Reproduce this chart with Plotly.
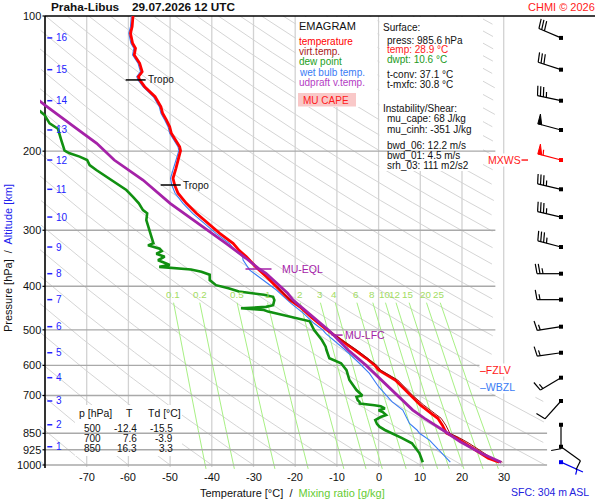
import math
import plotly.graph_objects as go

FONT = "Liberation Sans, Arial, sans-serif"

# ------------------------------------------------------------------ data
station = "Praha-Libus"
run_time = "29.07.2026 12 UTC"
credit = "CHMI \u00a9 2026"
diagram_name = "EMAGRAM"

temp_p = [100, 105.6, 109.3, 115.0, 118.0, 122.1, 127.4, 133.1, 136.5, 138.8, 143.7, 151.3, 159.2,
          164.7, 170.4, 176.4, 182.5, 188.9, 195.5, 199.5, 209.3, 218.4, 229.8, 237.9, 248.2, 261.3,
          275.1, 289.5, 304.8, 320.8, 333.0, 343.6, 361.7, 380.7, 400.7, 415.0, 429.1, 444.1, 470.0,
          500.0, 525.0, 554.5, 580.0, 600.0, 614.5, 646.7, 700.0, 735.0, 767.0, 787.0, 815.0, 835.0,
          850.0, 870.0, 894.5, 934.0, 966.0, 985.6]
temp_t = [-58.9, -59.1, -59.5, -59.0, -58.3, -58.6, -57.3, -56.7, -57.6, -57.3, -56.1, -53.6, -52.2,
          -51.8, -50.9, -50.1, -49.7, -48.7, -47.7, -47.5, -48.0, -48.6, -49.3, -48.9, -48.1, -46.1,
          -43.7, -40.9, -38.1, -34.9, -33.4, -31.7, -29.5, -26.9, -24.5, -22.8, -21.3, -18.9, -16.0,
          -12.4, -9.3, -5.6, -2.8, -0.9, 0.0, 4.0, 7.6, 10.0, 12.6, 14.2, 15.3, 15.8,
          16.3, 18.6, 20.8, 23.9, 26.3, 28.9]

virt_p = [400.7, 415.0, 429.1, 444.1, 470.0, 500.0, 525.0, 554.5, 580.0, 600.0, 614.5, 646.7, 700.0,
          735.0, 767.0, 787.0, 815.0, 835.0, 850.0, 870.0, 894.5, 934.0, 966.0, 985.6]
virt_t = [-24.4, -22.7, -21.2, -18.8, -15.8, -12.1, -9.0, -5.2, -2.3, -0.4, 0.5, 4.6, 8.2,
          10.8, 13.4, 15.0, 16.1, 16.6, 17.1, 19.4, 21.7, 24.8, 27.2, 29.7]

dew_p = [155.0, 166.2, 173.4, 178.3, 188.9, 199.5, 202.2, 205.7, 209.3, 214.8, 220.3, 228.0, 235.8,
         244.1, 252.7, 261.3, 270.6, 275.1, 284.7, 299.7, 315.6, 320.8, 324.2, 329.8, 334.0, 338.5,
         343.6, 349.9, 354.0, 358.6, 362.0, 364.5, 367.0, 371.1, 376.9, 387.3, 397.6, 404.0, 410.9,
         417.7, 422.0, 429.1, 440.8, 444.5, 447.7, 449.5, 451.5, 455.4, 465.0, 474.5, 478.7, 500.0,
         526.8, 545.1, 554.5, 578.6, 593.5, 614.6, 646.7, 681.0, 700.0, 705.0, 717.3, 722.6, 730.0,
         736.0, 740.0, 748.0, 755.0, 762.0, 774.0, 782.0, 794.0, 810.0, 821.8, 835.6, 850.0, 870.0,
         894.5, 941.8, 985.6]
dew_t = [-84.0, -80.1, -78.9, -76.9, -76.1, -75.3, -74.1, -71.7, -69.9, -69.3, -67.7, -65.3, -62.9,
         -60.5, -58.9, -57.5, -56.5, -55.5, -55.7, -54.9, -54.1, -54.0, -55.3, -52.5, -52.0, -53.3,
         -51.3, -52.9, -51.5, -50.1, -52.6, -49.0, -45.0, -42.5, -40.5, -40.5, -39.0, -36.0, -33.5,
         -27.5, -25.3, -25.0, -25.3, -27.0, -33.0, -30.0, -27.5, -26.5, -22.5, -18.5, -16.5, -15.5,
         -13.6, -12.7, -12.5, -11.8, -9.0, -7.7, -7.0, -5.3, -3.9, -5.3, -5.0, -4.6, -4.5,
         -1.0, 0.5, 1.5, 0.0, 1.0, 1.8, 0.5, -0.8, -0.4, 0.2, 1.5, 3.3, 5.5,
         8.0, 9.8, 10.6]

wetb_p = [100, 105.6, 109.3, 115.0, 118.0, 122.1, 127.4, 133.1, 136.5, 138.8, 143.7, 151.3, 159.2,
          164.7, 170.4, 176.4, 182.5, 188.9, 195.5, 199.5, 209.3, 218.4, 229.8, 237.9, 248.2, 261.3,
          275.1, 289.5, 304.8, 320.8, 333.0, 343.6, 349.4, 368.0, 387.3, 407.6, 436.4, 459.4, 483.5,
          500.0, 509.0, 554.5, 593.5, 624.9, 669.3, 722.7, 754.5, 780.5, 807.8, 835.6, 850.0, 880.0,
          941.8, 985.6]
wetb_t = [-59.3, -59.5, -59.9, -59.4, -58.7, -59.0, -57.7, -57.1, -58.0, -57.7, -56.5, -54.0, -52.6,
          -52.2, -51.3, -50.5, -50.1, -49.1, -48.1, -47.9, -48.5, -49.2, -49.9, -49.6, -48.8, -46.9,
          -44.6, -41.8, -39.0, -35.8, -34.4, -32.6, -32.5, -30.9, -27.7, -24.5, -21.0, -18.0, -15.5,
          -13.4, -12.7, -8.0, -4.6, -2.2, 0.0, 3.2, 5.8, 6.6, 7.4, 9.2, 9.8, 12.2,
          15.2, 17.2]

parcel_p = [150.0, 157.8, 177.9, 192.1, 209.3, 218.4, 231.9, 261.3, 289.5, 320.8, 346.4, 366.0, 374.2,
            400.7, 414.6, 429.1, 467.4, 500.0, 513.6, 554.5, 600.0, 650.0, 692.3, 700.0, 754.5, 767.3,
            787.1, 835.6, 887.5, 941.8, 985.6]
parcel_t = [-83.0, -80.1, -72.5, -67.6, -63.4, -60.5, -56.5, -50.0, -43.2, -36.6, -31.8, -28.6, -27.0,
            -23.5, -21.8, -20.5, -15.7, -12.1, -10.8, -7.3, -3.0, 0.9, 3.8, 4.4, 8.2, 9.3,
            11.0, 15.4, 19.6, 24.6, 29.4]

p_levels = [100, 200, 300, 400, 500, 600, 700, 850, 925, 1000]
t_ticks = [-70, -60, -50, -40, -30, -20, -10, 0, 10, 20, 30]
mix_ratios = [0.1, 0.2, 0.5, 1, 2, 3, 4, 6, 8, 10, 12, 15, 20, 25]
mix_labels = ["0.1", "0.2", "0.5", "1", "2", "3", "4", "6", "8", "10", "12", "15", "20", "25"]
theta_c = list(range(-80, 330, 10))

alt_km = list(range(1, 17))
alt_p = [910.6, 813.6, 720.2, 639.1, 562.3, 492.0, 428.3, 374.9, 327.0, 280.4, 243.2, 209.3,
         179.4, 154.4, 131.7, 111.9]

sfc_p = 985.6
sfc_alt_m = 304
wind_p = [sfc_p] + alt_p
wind_dir = [114, 126, 180, 222, 239, 262, 261, 270, 270, 285, 283, 283, 285, 285, 282, 288, 293]
wind_kt = [5, 10, 10, 10, 15, 15, 15, 15, 25, 35, 35, 35, 55, 50, 35, 30, 30]

tropo_p = [138.8, 237.9]
tropo_t = [-57.3, -48.9]
eql_p, eql_t = 366.0, -28.8
lfc_p, lfc_t = 513.6, -10.8
fzlv_p = 614.5
wbzl_p = 669.3

legend_items = ["temperature", "virt.temp.", "dew point", "wet bulb temp.", "udpraft v.temp."]
info_surface = ["press: 985.6 hPa", "temp: 28.9 \u00b0C", "dwpt: 10.6 \u00b0C"]
info_conv = ["t-conv: 37.1 \u00b0C", "t-mxfc: 30.8 \u00b0C"]
info_inst = ["mu_cape: 68 J/kg", "mu_cinh: -351 J/kg"]
info_shear = ["bwd_06: 12.2 m/s", "bwd_01: 4.5 m/s", "srh_03: 111 m2/s2"]

table_p = [500, 700, 850]
table_t = [-12.4, 7.6, 16.3]
table_td = [-15.5, -3.9, 3.3]

# ------------------------------------------------------------------ colours
C_T = "#ff0000"
C_TV = "#9a1010"
C_TD = "#119011"
C_TW = "#3a7cf5"
C_PAR = "#a522a8"
C_MIX = "#a8f084"
C_MIXL = "#a2dc62"
C_ADIA = "#d5d5d5"
C_ISOT = "#d2d2d2"
C_ISOB = "#a9a9a9"
C_ALT = "#2222ff"

# ------------------------------------------------------------------ geometry
W, H = 600, 500
ML, MR, MT, MB = 40, 2, 12, 22
X0, KX = 45.0, 4.17      # px of -80 degC, px per degC
Y0, KY = 16.0, 449.0     # px of 100 hPa, px per decade


def xpx(t):
    return X0 + (t + 80.0) * KX


def ypx(p):
    return Y0 + KY * math.log10(p / 100.0)


def t_of(px):
    return -80.0 + (px - X0) / KX


def p_of(py):
    return 100.0 * 10 ** ((py - Y0) / KY)


def pxp(px):
    return (px - ML) / (W - ML - MR)


def pyp(py):
    return (H - MB - py) / (H - MT - MB)


fig = go.Figure()


def add_line(xs, ys, color, width):
    fig.add_trace(go.Scatter(x=xs, y=ys, mode="lines", line=dict(color=color, width=width),
                             hoverinfo="skip", showlegend=False))


def add_px_segments(segs, color, width):
    xs, ys = [], []
    for (a, b) in segs:
        xs += [t_of(a[0]), t_of(b[0]), None]
        ys += [p_of(a[1]), p_of(b[1]), None]
    add_line(xs, ys, color, width)


def add_px_box(x0, y0, x1, y1, color):
    fig.add_trace(go.Scatter(x=[t_of(x0), t_of(x1), t_of(x1), t_of(x0), t_of(x0)],
                             y=[p_of(y0), p_of(y0), p_of(y1), p_of(y1), p_of(y0)],
                             mode="lines", fill="toself", fillcolor=color,
                             line=dict(width=0, color=color), hoverinfo="skip", showlegend=False))


annots = []


def text(px, py, s, size=10, color="#000000", anchor="left", bg=None, angle=0):
    d = dict(x=pxp(px), y=pyp(py), xref="paper", yref="paper", text=s, showarrow=False,
             xanchor=anchor, yanchor="middle", borderpad=0, textangle=angle,
             font=dict(family=FONT, size=size, color=color))
    if bg:
        d["bgcolor"] = bg
    annots.append(d)


def log_grid(p0, p1, n=160):
    a, b = math.log10(p0), math.log10(p1)
    return [10 ** (a + (b - a) * i / (n - 1)) for i in range(n)]


# ------------------------------------------------------------------ background grid
# dry adiabats
pg = log_grid(100, 1000, 220)
xs, ys = [], []
for th in theta_c:
    thk = th + 273.15
    run = False
    for p in pg:
        t = thk * (p / 1000.0) ** 0.2857 - 273.15
        tmax = 40.0 if p >= 700 else 28.0
        if -81.5 <= t <= tmax:
            xs.append(t)
            ys.append(p)
            run = True
        elif run:
            xs.append(None)
            ys.append(None)
            run = False
    xs.append(None)
    ys.append(None)
add_line(xs, ys, C_ADIA, 1)

# isotherms
xs, ys = [], []
for t in t_ticks:
    xs += [t, t, None]
    ys += [100, p_of(467), None]
add_line(xs, ys, C_ISOT, 1.3)


# mixing ratio lines
def mix_td(w, p):
    e = w * p / (622.0 + w)
    lg = math.log(e / 6.112)
    return 243.5 * lg / (17.67 - lg)


xs, ys = [], []
for w in mix_ratios:
    for p in log_grid(435, 1020, 40):
        xs.append(mix_td(w, p))
        ys.append(p)
    xs.append(None)
    ys.append(None)
add_line(xs, ys, C_MIX, 1)

# white panels
add_px_box(296, 17, 377.5, 107, "#ffffff")
add_px_box(379.5, 17, 483, 171, "#ffffff")
add_px_box(75, 405, 182, 456, "#ffffff")
add_px_box(298, 93, 356, 106.5, "#f9c8c8")

# isobars
xs, ys = [], []
for p in p_levels[1:]:
    tend = 40.4 if p >= 850 else 28.0
    xs += [-80, tend, None]
    ys += [p, p, None]
add_line(xs, ys, C_ISOB, 1.4)

# frame: top line, left axis, ticks
add_line([-80, t_of(595)], [100, 100], "#000000", 1.6)
add_line([-80, -80], [100, p_of(468)], "#000000", 1.6)
segs = [((42.5, ypx(p)), (45, ypx(p))) for p in p_levels]
add_px_segments(segs, "#000000", 1.2)

# ------------------------------------------------------------------ profiles
add_line(dew_t, dew_p, C_TD, 2.6)
add_line(wetb_t, wetb_p, C_TW, 1.1)
add_line(temp_t, temp_p, C_T, 2.8)
add_line(virt_t, virt_p, C_TV, 1.0)
add_line(parcel_t, parcel_p, C_PAR, 2.8)

# ------------------------------------------------------------------ level markers
segs = []
for p, t in zip(tropo_p, tropo_t):
    x, y = xpx(t), ypx(p)
    segs.append(((x - 14, y), (x + 6, y)))
    text(x + 7.5, y, "Tropo", 10, "#111111")
add_px_segments(segs, "#000000", 1.5)

x, y = xpx(eql_t), ypx(eql_p)
add_px_segments([((x - 13, y), (x + 13, y))], C_PAR, 1.5)
text(x + 22, y, "MU-EQL", 10.5, C_PAR)
x, y = xpx(lfc_t), ypx(lfc_p)
add_px_segments([((x - 2, y), (x + 9, y))], C_PAR, 1.5)
text(x + 10.5, y, "MU-LFC", 10.5, C_PAR)

text(478.5, ypx(fzlv_p), "<span style='color:#ff0000'>\u2013</span>FZLV ", 10.5, "#ff1a1a", bg="#ffffff")
text(478.5, ypx(wbzl_p), "<span style='color:#3a7cf5'>\u2013</span>WBZL ", 10.5, "#3a7cf5", bg="#ffffff")

# altitude scale
segs = []
for km, p in zip(alt_km, alt_p):
    y = ypx(p)
    segs.append(((47.3, y), (52.3, y)))
    text(54.5, y, str(km), 10, C_ALT)
add_px_segments(segs, C_ALT, 1.5)

# ------------------------------------------------------------------ wind barbs
BX = 561.0
imax = max(range(1, len(wind_kt)), key=lambda i: wind_kt[i])


def barb(bx, by, ddeg, kt, staff=24.0):
    th = math.radians(ddeg)
    dx, dy = math.sin(th), -math.cos(th)
    tx, ty = bx + staff * dx, by + staff * dy
    qx, qy = -dy, dx
    a = math.radians(10)
    fx, fy = qx * math.cos(a) + dx * math.sin(a), qy * math.cos(a) + dy * math.sin(a)
    lines = [((bx, by), (tx, ty))]
    tris = []
    n50 = int(kt // 50)
    rem = kt - 50 * n50
    n10 = int(rem // 10)
    n5 = 1 if rem - 10 * n10 >= 5 else 0
    pos = 0.0
    for _ in range(n50):
        p0 = (tx - pos * dx, ty - pos * dy)
        p1 = (tx - (pos + 4) * dx, ty - (pos + 4) * dy)
        apex = (p0[0] + 10 * qx, p0[1] + 10 * qy)
        tris.append([p0, apex, p1])
        pos += 5.5
    for _ in range(n10):
        s = (tx - pos * dx, ty - pos * dy)
        lines.append((s, (s[0] + 10 * fx, s[1] + 10 * fy)))
        pos += 3
    if n5:
        if n50 == 0 and n10 == 0:
            pos = 6.5
        s = (tx - pos * dx, ty - pos * dy)
        lines.append((s, (s[0] + 5.5 * fx, s[1] + 5.5 * fy)))
    return lines, tris


for i, (p, d, s) in enumerate(zip(wind_p, wind_dir, wind_kt)):
    col = "#000000"
    if i == 0:
        col = "#0000ee"
    elif i == imax:
        col = "#ff0000"
    by = ypx(p)
    lines, tris = barb(BX, by, d, s)
    add_px_segments(lines, col, 1.2)
    for tri in tris:
        fig.add_trace(go.Scatter(x=[t_of(q[0]) for q in tri + [tri[0]]],
                                 y=[p_of(q[1]) for q in tri + [tri[0]]],
                                 mode="lines", fill="toself", fillcolor=col,
                                 line=dict(color=col, width=1), hoverinfo="skip", showlegend=False))
    fig.add_trace(go.Scatter(x=[t_of(BX)], y=[p], mode="markers",
                             marker=dict(symbol="square", size=4, color=col),
                             hoverinfo="skip", showlegend=False))

ymx = ypx(wind_p[imax])
add_px_segments([((520, ymx), (528, ymx))], "#ff0000", 1.3)
text(487, ymx, "MXWS", 10.5, "#ff1a1a", bg="#ffffff")

# ------------------------------------------------------------------ texts
text(50, 7.5, "<b>" + station + "</b>", 11.8, "#111111")
text(131, 7.5, "<b>" + run_time + "</b>", 11.8, "#111111")
text(596, 7.5, credit, 11, "#ff1a1a", anchor="right")

for p in p_levels:
    text(42, ypx(p), str(p), 11, "#111111", anchor="right")
for t in t_ticks:
    text(xpx(t), 476.5, str(t), 11, "#111111", anchor="center")

for w, lab in zip(mix_ratios, mix_labels):
    text(xpx(mix_td(w, 416)) + 1.5, 294.5, lab, 9.8, C_MIXL, anchor="center")

text(8, 258, "Pressure [hPa]&nbsp; /&nbsp; <span style='color:#2222ee'>Altitude [km]</span>",
     11, "#111111", anchor="center", angle=-90)
text(292, 493, "Temperature [\u00b0C]&nbsp; /&nbsp; <span style='color:#66cc33'>Mixing ratio [g/kg]</span>",
     11, "#111111", anchor="center")
text(590, 492, "SFC: %d m ASL" % sfc_alt_m, 10.5, "#2222dd", anchor="right")

# legend
text(298, 26, diagram_name, 11, "#111111")
leg_cols = [C_T, "#a82020", "#22a022", C_TW, "#b43cc4"]
for k, (lab, c) in enumerate(zip(legend_items, leg_cols)):
    text(298, 42 + 10 * k, lab, 10, c)
text(302, 100, "MU CAPE", 10, "#ff1a1a")

# info panel
text(382, 27.3, "Surface:", 10, "#111111")
cols = ["#111111", "#ff2020", "#229922"]
for k, (s, c) in enumerate(zip(info_surface, cols)):
    text(386, 40 + 10 * k, s, 10, c)
for k, s in enumerate(info_conv):
    text(386, 74 + 10 * k, s, 10, "#111111")
text(382, 108, "Instability/Shear:", 10, "#111111")
for k, s in enumerate(info_inst):
    text(386, 118.5 + 10.5 * k, s, 10, "#111111")
for k, s in enumerate(info_shear):
    text(386, 145 + 10 * k, s, 10, "#111111")

# table
text(78, 413, "p [hPa]", 10.5, "#111111")
text(129, 413, "T", 10.5, "#111111", anchor="center")
text(146.5, 413, "Td [\u00b0C]", 10.5, "#111111")
for k, (p, t, td) in enumerate(zip(table_p, table_t, table_td)):
    y = 428.3 + 10 * k
    text(102, y, str(p), 10, "#111111", anchor="right")
    text(137.5, y, "%.1f" % t, 10, "#111111", anchor="right")
    text(174, y, "%.1f" % td, 10, "#111111", anchor="right")

# ------------------------------------------------------------------ layout
fig.update_layout(
    width=W, height=H,
    margin=dict(l=ML, r=MR, t=MT, b=MB, pad=0),
    paper_bgcolor="#ffffff", plot_bgcolor="#ffffff",
    showlegend=False,
    xaxis=dict(range=[t_of(ML), t_of(W - MR)], visible=False, fixedrange=True),
    yaxis=dict(type="log", range=[math.log10(p_of(H - MB)), math.log10(p_of(MT))],
               visible=False, fixedrange=True),
    annotations=annots,
    font=dict(family=FONT),
)

fig.write_html("out.html", config={"displayModeBar": False},
               post_script="document.body.style.margin='0';document.body.style.padding='0';")
